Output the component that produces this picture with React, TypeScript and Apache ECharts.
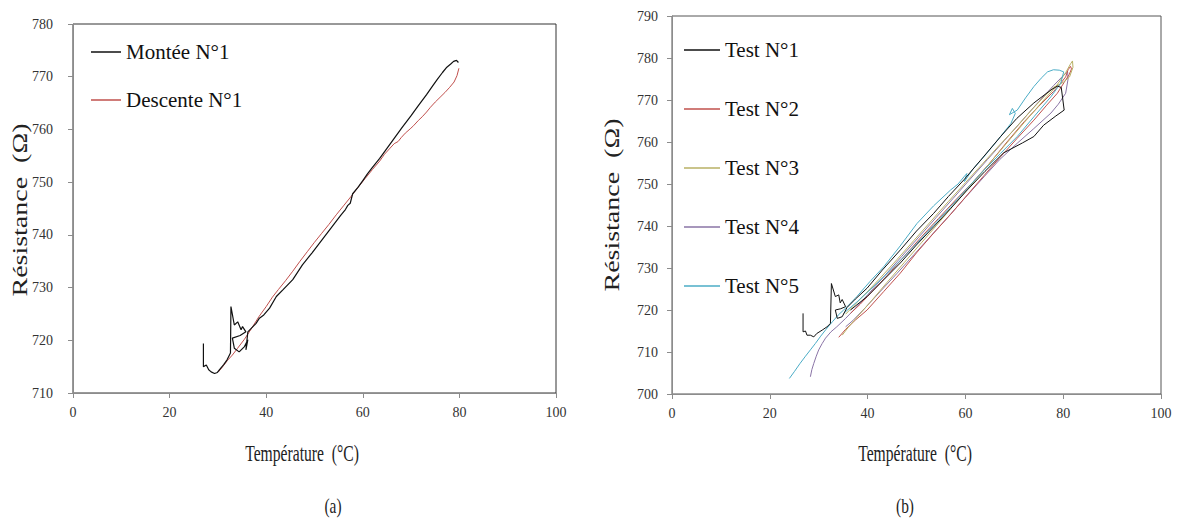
import React, { useEffect, useRef } from "react";
import * as echarts from "echarts";

const FONT = "'Liberation Serif', 'Times New Roman', serif";

// ---------- Chart (a) ----------
const xTicksA = [0, 20, 40, 60, 80, 100];
const yRangeA = [710, 780];

const monteeN1: [number, number][] = [
  [27.0, 719.4], [27.0, 715.0], [27.6, 715.3], [28.1, 714.4], [28.6, 714.0], [29.3, 713.7], [29.9, 713.9],
  [30.3, 714.4], [31.2, 715.4], [31.9, 716.3], [32.6, 717.6], [32.7, 726.4], [33.4, 722.9], [34.1, 723.5],
  [34.8, 722.0], [35.1, 722.6], [35.8, 721.6], [34.6, 720.9], [33.0, 720.4], [33.4, 718.5], [34.4, 717.8],
  [35.5, 718.8], [36.2, 720.1], [35.8, 718.2], [36.2, 721.6], [37.9, 723.2], [38.6, 724.2], [39.5, 724.8],
  [40.7, 726.1], [42.1, 728.3], [43.5, 729.6], [45.5, 731.5], [47.5, 734.3], [49.5, 736.6], [51.0, 738.4],
  [52.5, 740.2], [54.0, 742.0], [55.5, 743.8], [56.4, 744.8], [56.9, 745.6], [57.4, 746.0], [57.9, 747.8],
  [59.0, 749.0], [60.0, 750.3], [61.0, 751.6], [62.0, 752.8], [63.5, 754.5], [65.0, 756.4], [66.5, 758.3],
  [68.0, 760.2], [70.0, 762.6], [71.5, 764.5], [73.2, 766.6], [74.5, 768.3], [75.5, 769.6], [76.5, 770.8],
  [77.4, 771.8], [78.2, 772.4], [78.8, 772.9], [79.4, 773.1], [79.8, 772.7],
];

const descenteN1: [number, number][] = [
  [79.9, 771.6], [79.5, 770.2], [78.9, 769.0], [78.0, 768.0], [77.0, 767.0], [76.0, 766.1], [75.0, 765.2],
  [74.0, 764.2], [73.2, 763.3], [72.3, 762.4], [71.5, 761.7], [70.5, 760.7], [69.8, 760.1], [68.8, 759.3],
  [68.0, 758.5], [67.3, 757.7], [66.5, 757.3], [65.5, 756.3], [64.5, 755.3], [63.5, 754.0], [62.0, 752.4],
  [60.5, 750.7], [59.0, 749.0], [57.5, 747.2], [56.0, 745.5], [54.5, 743.8], [53.0, 742.0], [51.5, 740.3],
  [50.0, 738.6], [48.5, 736.8], [47.0, 735.0], [45.5, 733.1], [44.0, 731.3], [42.5, 729.6], [41.3, 728.2],
  [40.0, 726.4], [38.5, 724.5], [37.0, 722.3], [35.5, 720.2], [34.0, 718.4], [33.0, 717.2], [32.0, 716.2],
  [31.0, 715.0], [30.1, 714.0],
];

// ---------- Chart (b) ----------
const yRangeB = [700, 790];

const test1: [number, number][] = [
  [26.8, 719.2], [26.8, 714.8], [27.3, 715.0], [27.6, 714.0], [28.3, 714.0], [29.0, 713.6], [29.6, 714.4],
  [30.7, 715.2], [31.7, 716.0], [32.4, 716.8], [32.6, 726.3], [33.4, 723.2], [34.1, 723.6], [34.4, 721.7],
  [34.8, 722.5], [35.5, 720.8], [34.5, 720.3], [33.4, 720.0], [33.8, 718.0], [34.8, 718.4], [35.8, 720.6],
  [37.5, 722.6], [39.9, 725.2], [43.0, 729.5], [46.7, 734.3], [50.0, 738.8], [53.5, 743.0], [56.5, 747.0],
  [59.7, 751.0], [63.5, 756.2], [67.2, 761.3], [70.5, 765.6], [74.0, 769.3], [77.5, 772.4], [78.8, 773.3],
  [79.6, 773.0], [80.2, 767.6], [78.5, 766.2], [76.0, 764.0], [74.0, 761.3], [71.7, 759.8], [67.8, 757.4],
  [64.0, 753.0], [60.4, 748.6], [57.0, 744.2], [53.5, 739.8], [50.0, 735.5], [46.7, 731.2], [43.3, 727.2],
  [39.9, 723.2], [36.5, 720.0],
];

const test2: [number, number][] = [
  [34.1, 713.5], [35.5, 715.4], [37.5, 717.6], [39.9, 720.0], [43.3, 724.4], [46.7, 728.8], [50.0, 733.6],
  [53.5, 738.3], [57.0, 742.8], [60.4, 747.4], [63.8, 752.0], [67.2, 756.5], [70.6, 760.9], [74.0, 765.2],
  [76.5, 768.6], [78.8, 771.6], [80.2, 774.2], [81.2, 776.0], [81.7, 777.4], [81.5, 778.0], [81.0, 777.2],
  [80.5, 775.5], [79.5, 774.0], [78.0, 772.0], [75.0, 768.5], [72.0, 764.8], [68.5, 760.0], [65.0, 755.0],
  [61.5, 750.4], [58.0, 746.2], [54.5, 741.8], [51.0, 737.4], [47.5, 732.8], [44.0, 728.2], [41.0, 724.5],
  [38.5, 721.4], [36.5, 719.2],
];

const test3: [number, number][] = [
  [34.8, 714.0], [36.0, 715.8], [38.0, 718.5], [40.5, 721.8], [44.0, 726.6], [47.5, 731.3], [51.0, 736.0],
  [54.5, 740.7], [58.0, 745.5], [61.5, 750.2], [65.0, 755.0], [68.5, 759.8], [72.0, 764.6], [75.5, 769.3],
  [78.5, 773.2], [80.5, 776.5], [81.5, 778.6], [81.9, 779.3], [82.0, 777.8], [81.3, 775.5], [80.0, 774.2],
  [78.0, 773.0], [76.1, 770.8], [73.5, 767.6], [70.5, 763.6], [67.0, 759.3], [63.5, 754.8], [60.0, 750.3],
  [56.5, 745.8], [53.0, 741.2], [49.5, 736.6], [46.0, 732.0], [42.5, 727.5], [39.5, 723.8], [37.0, 720.8],
  [35.5, 719.0],
];

const test4: [number, number][] = [
  [28.3, 704.1], [28.6, 705.8], [29.0, 707.3], [29.5, 709.0], [30.0, 710.5], [30.7, 712.0], [31.4, 713.3],
  [32.5, 714.8], [33.7, 716.0], [35.5, 718.0], [37.5, 720.4], [40.0, 723.6], [43.5, 728.2], [47.0, 732.8],
  [50.5, 737.4], [54.0, 742.0], [57.5, 746.6], [61.0, 751.2], [64.5, 755.8], [68.0, 760.4], [71.5, 765.0],
  [75.0, 769.6], [78.0, 773.4], [80.0, 775.8], [80.9, 776.7], [81.0, 775.0], [80.5, 771.6], [79.0, 769.0],
  [77.5, 766.9], [74.0, 763.2], [70.6, 759.7], [67.0, 755.8], [63.8, 751.7], [60.0, 746.8], [56.5, 742.2],
  [53.0, 737.7], [49.5, 733.2], [46.0, 728.7], [42.5, 724.3], [39.5, 720.5], [37.0, 717.5], [35.5, 716.0],
];

const test5: [number, number][] = [
  [24.0, 703.7], [25.0, 705.3], [26.2, 707.3], [27.3, 709.0], [28.3, 710.5], [29.3, 712.0], [30.3, 713.6],
  [31.5, 715.4], [32.8, 717.2], [34.0, 718.8], [35.1, 720.0], [36.5, 721.6], [37.8, 723.2], [40.5, 726.8],
  [43.3, 730.3], [46.5, 735.0], [50.1, 740.6], [53.5, 744.8], [57.0, 748.6], [58.5, 750.0], [59.7, 751.7],
  [60.3, 752.5], [59.8, 750.6], [61.5, 753.5], [63.8, 756.5], [66.5, 760.3], [69.3, 764.4], [70.2, 766.8],
  [69.6, 768.0], [69.0, 766.5], [70.6, 767.6], [72.3, 770.5], [74.0, 773.2], [75.5, 775.2], [76.8, 776.7],
  [78.0, 777.2], [79.2, 777.1], [80.1, 776.7], [79.5, 774.0], [77.5, 770.8], [74.0, 766.0], [70.6, 761.3],
  [67.2, 757.3], [63.8, 753.3], [60.4, 749.0], [57.0, 744.6], [53.5, 740.2], [50.1, 735.9], [46.7, 731.8],
  [43.3, 727.9], [40.5, 724.8], [37.8, 721.9], [36.4, 720.5], [35.1, 719.2],
];

const namesA = ["Montée N°1", "Descente N°1"];
const namesB = ["Test N°1", "Test N°2", "Test N°3", "Test N°4", "Test N°5"];
const colorsA = ["#111111", "#c0504d"];
const colorsB = ["#111111", "#c0504d", "#b8b064", "#8a74a6", "#4bacc6"];

const axisGray = "#8c8c8c";

function xAxisOf(gridIndex: number) {
  return {
    type: "value",
    gridIndex,
    min: xTicksA[0],
    max: xTicksA[xTicksA.length - 1],
    interval: 20,
    axisLine: { show: true, onZero: false, lineStyle: { color: axisGray, width: 1 } },
    axisTick: { show: true, length: 5, lineStyle: { color: axisGray } },
    splitLine: { show: false },
    axisLabel: { margin: 12, fontFamily: FONT, fontSize: 14, color: "#333" },
  };
}

function yAxisOf(gridIndex: number, range: number[], margin: number) {
  return {
    type: "value",
    gridIndex,
    min: range[0],
    max: range[1],
    interval: 10,
    axisLine: { show: true, onZero: false, lineStyle: { color: axisGray, width: 1 } },
    axisTick: { show: true, length: 5, lineStyle: { color: axisGray } },
    splitLine: { show: false },
    axisLabel: { margin, fontFamily: FONT, fontSize: 14, color: "#333" },
  };
}

function lineSeries(name: string, data: [number, number][], color: string, idx: number, z: number, width = 1) {
  return {
    type: "line",
    name,
    data,
    xAxisIndex: idx,
    yAxisIndex: idx,
    symbol: "none",
    showSymbol: false,
    smooth: false,
    z,
    lineStyle: { color, width },
    itemStyle: { color },
  };
}

function textEl(text: string, x: number, y: number, fontSize: number, rotation: number, scaleX: number, scaleY: number) {
  return {
    type: "text",
    x,
    y,
    rotation,
    scaleX,
    scaleY,
    style: {
      text,
      fontFamily: FONT,
      fontSize,
      fill: "#222",
      align: "center",
      verticalAlign: "middle",
    },
  };
}

const legendText = { fontFamily: FONT, fontSize: 21, color: "#111", lineHeight: 24 };

export default function App() {
  const ref = useRef<HTMLDivElement>(null);
  useEffect(() => {
    if (!ref.current) return;
    const chart = echarts.init(ref.current, undefined, { renderer: "svg" });
    const option = {
      animation: false,
      backgroundColor: "#ffffff",
      grid: [
        { left: 73, top: 24, width: 483, height: 369, show: true, borderColor: "#333", borderWidth: 1, backgroundColor: "transparent", outerBoundsMode: "none" },
        { left: 672, top: 16, width: 489, height: 378, show: true, borderColor: "#555", borderWidth: 1, backgroundColor: "transparent", outerBoundsMode: "none" },
      ],
      xAxis: [xAxisOf(0), xAxisOf(1)],
      yAxis: [yAxisOf(0, yRangeA, 20), yAxisOf(1, yRangeB, 14)],
      legend: [
        {
          data: namesA,
          orient: "vertical",
          left: 91,
          top: 40,
          padding: 0,
          icon: "rect",
          itemWidth: 30,
          itemHeight: 1.5,
          itemGap: 24,
          selectedMode: false,
          textStyle: legendText,
        },
        {
          data: namesB,
          orient: "vertical",
          left: 684,
          top: 38,
          padding: 0,
          icon: "rect",
          itemWidth: 36,
          itemHeight: 1.5,
          itemGap: 35,
          selectedMode: false,
          textStyle: legendText,
        },
      ],
      series: [
        lineSeries(namesA[0], monteeN1, colorsA[0], 0, 3, 1.2),
        lineSeries(namesA[1], descenteN1, colorsA[1], 0, 2, 1),
        lineSeries(namesB[0], test1, colorsB[0], 1, 6, 1),
        lineSeries(namesB[1], test2, colorsB[1], 1, 3, 1),
        lineSeries(namesB[2], test3, colorsB[2], 1, 4, 1),
        lineSeries(namesB[3], test4, colorsB[3], 1, 2, 1),
        lineSeries(namesB[4], test5, colorsB[4], 1, 5, 1),
      ],
      graphic: [
        textEl("Résistance  (Ω)", 20, 210, 28, Math.PI / 2, 1, 0.72),
        textEl("Résistance  (Ω)", 612, 205, 28, Math.PI / 2, 1, 0.72),
        textEl("Température  (°C)", 302, 453, 23, 0, 0.68, 1),
        textEl("Température  (°C)", 915, 453, 23, 0, 0.68, 1),
        textEl("(a)", 333, 505, 22, 0, 0.7, 1),
        textEl("(b)", 905, 505, 22, 0, 0.7, 1),
      ],
    };
    chart.setOption(option as any);
    return () => chart.dispose();
  }, []);
  return (
    <div
      ref={ref}
      style={{ position: "absolute", left: 0, top: 0, width: 1178, height: 523, background: "#fff" }}
    />
  );
}
